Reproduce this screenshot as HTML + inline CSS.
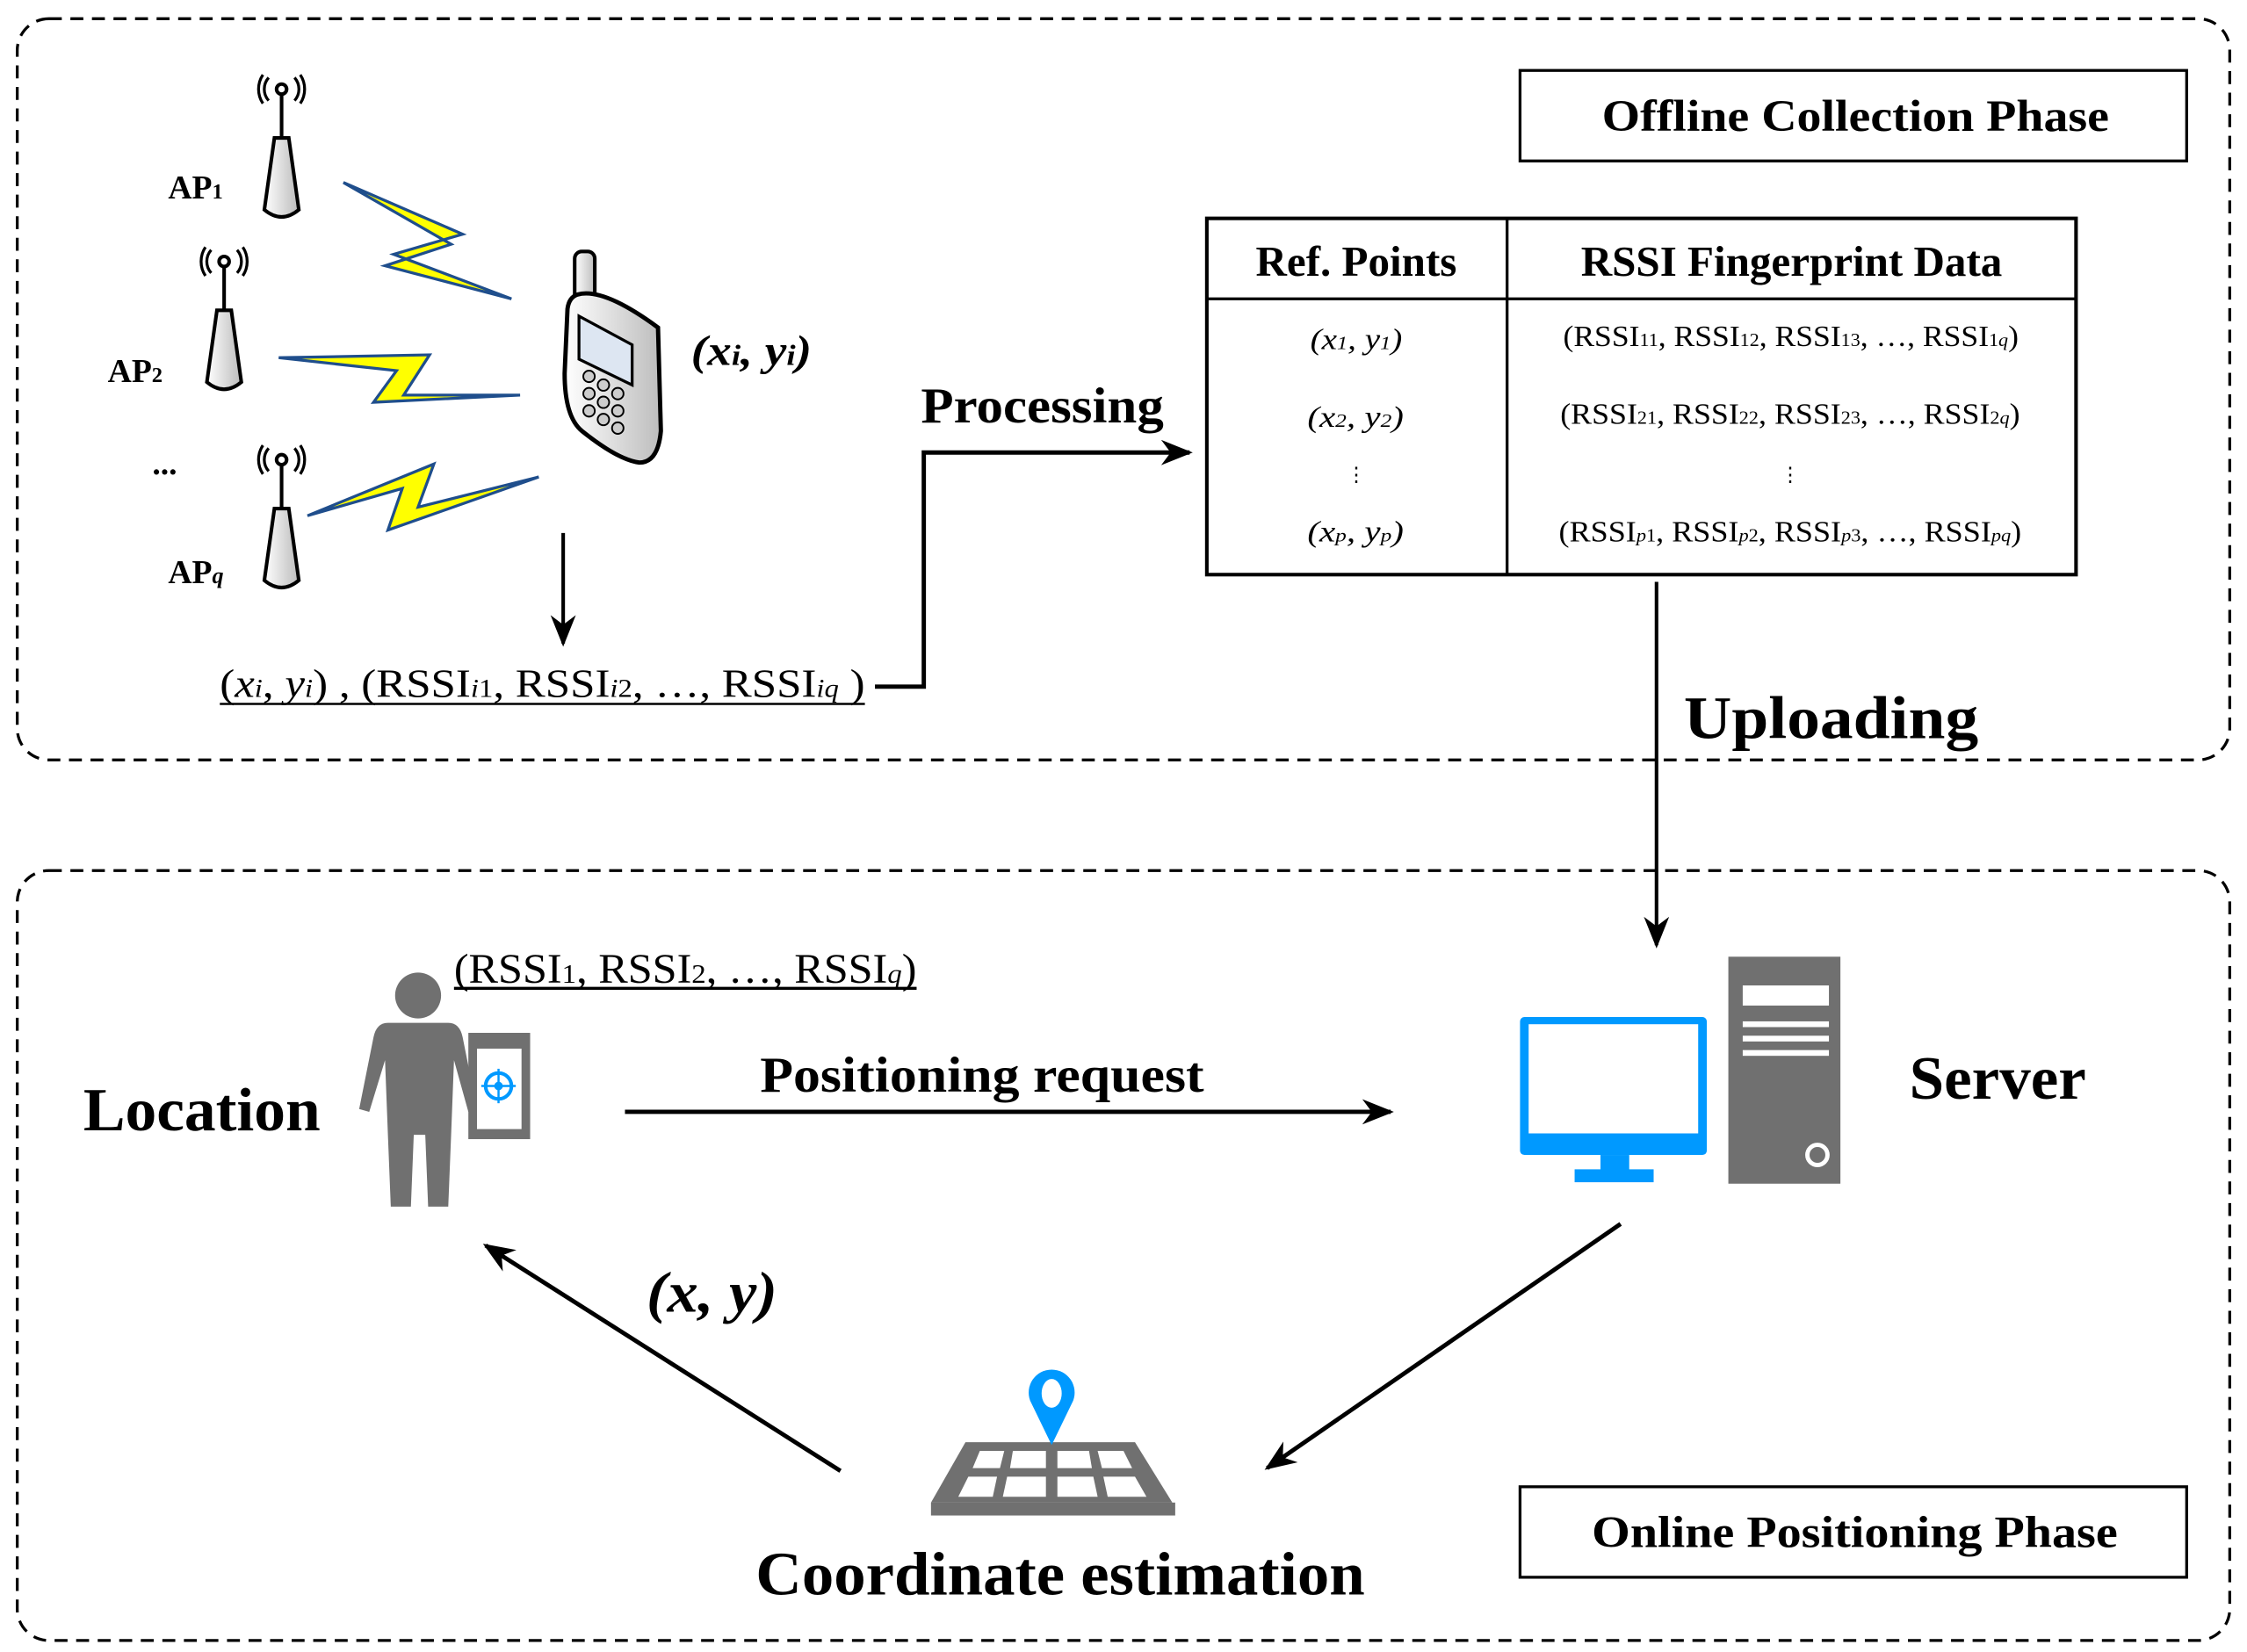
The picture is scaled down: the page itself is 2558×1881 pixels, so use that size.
<!DOCTYPE html>
<html><head><meta charset="utf-8"><style>
html,body{margin:0;padding:0;background:#fff;}
svg{display:block;}
text{font-family:"Liberation Serif",serif;fill:#000;}
</style></head><body>
<svg width="2558" height="1881" viewBox="0 0 1564 1150" xmlns="http://www.w3.org/2000/svg">
<defs>
<marker id="ahL" viewBox="0 0 10 10" refX="9" refY="5" markerWidth="22" markerHeight="22" orient="auto" markerUnits="userSpaceOnUse"><path d="M0,1 L10,5 L0,9 L3,5 z" fill="#000"/></marker>
<linearGradient id="ant" x1="0" x2="1"><stop offset="0" stop-color="#fff"/><stop offset="1" stop-color="#bbb"/></linearGradient>
<linearGradient id="ph" x1="0" x2="1"><stop offset="0" stop-color="#fff"/><stop offset="1" stop-color="#bdbdbd"/></linearGradient>
<g id="ap">
<path d="M-13,-14 a18,18 0 0 0 0,20 M-9,-12 a12,12 0 0 0 0,16 M13,-14 a18,18 0 0 1 0,20 M9,-12 a12,12 0 0 1 0,16" fill="none" stroke="#000" stroke-width="2"/>
<circle cx="0" cy="-4" r="3.5" fill="#fff" stroke="#000" stroke-width="2.5"/>
<line x1="0" y1="-1" x2="0" y2="30" stroke="#000" stroke-width="2.5"/>
<path d="M-5,30 L5,30 L12,80 Q0,90 -12,80 Z" fill="url(#ant)" stroke="#000" stroke-width="2.5"/>
</g>
</defs>
<rect x="12" y="13" width="1540" height="516" rx="22" fill="none" stroke="#000" stroke-width="2" stroke-dasharray="9,6"/>
<rect x="12" y="606" width="1540" height="536" rx="22" fill="none" stroke="#000" stroke-width="2" stroke-dasharray="9,6"/>

<rect x="1058" y="49" width="464" height="63" fill="#fff" stroke="#000" stroke-width="2"/>
<text x="1115" y="91" font-size="31" font-weight="bold" textLength="353" lengthAdjust="spacingAndGlyphs">Offline Collection Phase</text>
<rect x="1058" y="1035" width="464" height="63" fill="#fff" stroke="#000" stroke-width="2"/>
<text x="1108" y="1077" font-size="31" font-weight="bold" textLength="366" lengthAdjust="spacingAndGlyphs">Online Positioning Phase</text>

<use href="#ap" x="196" y="66"/>
<use href="#ap" x="156" y="186"/>
<use href="#ap" x="196" y="324"/>
<text x="117" y="138" font-size="23" font-weight="bold">AP<tspan font-size="15">1</tspan></text>
<text x="75" y="266" font-size="23" font-weight="bold">AP<tspan font-size="15">2</tspan></text>
<text x="106" y="330" font-size="23" font-weight="bold">...</text>
<text x="117" y="406" font-size="23" font-weight="bold">AP<tspan font-size="16" font-style="italic">q</tspan></text>
<polygon points="239,127 322,163 274,177 356,208 268,185 314,170" fill="#ff0" stroke="#1f4e8c" stroke-width="2"/>
<polygon points="194,249 299,247 281,275 362,275 260,280 276,258" fill="#ff0" stroke="#1f4e8c" stroke-width="2"/>
<polygon points="214,359 302,323 291,353 375,332 270,369 280,340" fill="#ff0" stroke="#1f4e8c" stroke-width="2"/>
<rect x="400" y="175" width="14" height="40" rx="5" fill="url(#ph)" stroke="#000" stroke-width="2.5"/>
<path d="M402,205 Q420,200 458,228 L460,300 Q458,322 445,322 Q430,320 405,300 Q393,290 393,260 L395,215 Q396,207 402,205 Z" fill="url(#ph)" stroke="#000" stroke-width="3"/>
<polygon points="403,220 440,240 440,268 403,250" fill="#dde6f2" stroke="#000" stroke-width="2"/>
<g fill="#ccc" stroke="#000" stroke-width="1.2">
<circle cx="410" cy="262" r="4"/><circle cx="420" cy="268" r="4"/><circle cx="430" cy="274" r="4"/>
<circle cx="410" cy="274" r="4"/><circle cx="420" cy="280" r="4"/><circle cx="430" cy="286" r="4"/>
<circle cx="410" cy="286" r="4"/><circle cx="420" cy="292" r="4"/><circle cx="430" cy="298" r="4"/>
</g>
<text x="481" y="254" font-size="30" font-style="italic" font-weight="bold" textLength="84" lengthAdjust="spacingAndGlyphs">(x<tspan font-size="20">i</tspan>, y<tspan font-size="20">i</tspan>)</text>

<line x1="392" y1="371" x2="392" y2="448" stroke="#000" stroke-width="2.5" marker-end="url(#ahL)"/>
<text x="153" y="485" font-size="28" textLength="449" lengthAdjust="spacingAndGlyphs">(<tspan font-style="italic">x</tspan><tspan font-size="18" font-style="italic">i</tspan>, <tspan font-style="italic">y</tspan><tspan font-size="18" font-style="italic">i</tspan>) , (RSSI<tspan font-size="18" font-style="italic">i</tspan><tspan font-size="18">1</tspan>, RSSI<tspan font-size="18" font-style="italic">i</tspan><tspan font-size="18">2</tspan>, …, RSSI<tspan font-size="18" font-style="italic">iq</tspan> )</text>
<line x1="153" y1="490" x2="602" y2="490" stroke="#000" stroke-width="1.5"/>
<polyline points="609,478 643,478 643,315 828,315" fill="none" stroke="#000" stroke-width="3" marker-end="url(#ahL)"/>
<text x="641" y="294" font-size="35" font-weight="bold" textLength="169" lengthAdjust="spacingAndGlyphs">Processing</text>

<rect x="840" y="152" width="605" height="248" fill="#fff" stroke="#000" stroke-width="2.5"/>
<line x1="840" y1="208" x2="1445" y2="208" stroke="#000" stroke-width="2"/>
<line x1="1049" y1="152" x2="1049" y2="400" stroke="#000" stroke-width="2"/>
<text x="944" y="192" font-size="30" font-weight="bold" text-anchor="middle">Ref. Points</text>
<text x="1247" y="192" font-size="30" font-weight="bold" text-anchor="middle">RSSI Fingerprint Data</text>
<g font-size="21" font-style="italic">
<text x="912" y="243" textLength="64" lengthAdjust="spacingAndGlyphs">(x<tspan font-size="13">1</tspan>, y<tspan font-size="13">1</tspan>)</text>
<text x="910" y="297" textLength="67" lengthAdjust="spacingAndGlyphs">(x<tspan font-size="13">2</tspan>, y<tspan font-size="13">2</tspan>)</text>
<text x="910" y="377" textLength="67" lengthAdjust="spacingAndGlyphs">(x<tspan font-size="13">p</tspan>, y<tspan font-size="13">p</tspan>)</text>
<text x="944" y="335" font-style="normal" font-size="14" text-anchor="middle">⋮</text>
</g>
<g font-size="21">
<text x="1088" y="241" textLength="317" lengthAdjust="spacingAndGlyphs">(RSSI<tspan font-size="13">11</tspan>, RSSI<tspan font-size="13">12</tspan>, RSSI<tspan font-size="13">13</tspan>, …, RSSI<tspan font-size="13">1<tspan font-style="italic">q</tspan></tspan>)</text>
<text x="1086" y="295" textLength="320" lengthAdjust="spacingAndGlyphs">(RSSI<tspan font-size="13">21</tspan>, RSSI<tspan font-size="13">22</tspan>, RSSI<tspan font-size="13">23</tspan>, …, RSSI<tspan font-size="13">2<tspan font-style="italic">q</tspan></tspan>)</text>
<text x="1085" y="377" textLength="322" lengthAdjust="spacingAndGlyphs">(RSSI<tspan font-size="13"><tspan font-style="italic">p</tspan>1</tspan>, RSSI<tspan font-size="13"><tspan font-style="italic">p</tspan>2</tspan>, RSSI<tspan font-size="13"><tspan font-style="italic">p</tspan>3</tspan>, …, RSSI<tspan font-size="13" font-style="italic">pq</tspan>)</text>
<text x="1246" y="335" font-size="14" text-anchor="middle">⋮</text>
</g>

<line x1="1153" y1="405" x2="1153" y2="658" stroke="#000" stroke-width="2.5" marker-end="url(#ahL)"/>
<text x="1172" y="514" font-size="42" font-weight="bold" textLength="205" lengthAdjust="spacingAndGlyphs">Uploading</text>

<g fill="#707070">
<circle cx="291" cy="693" r="16"/>
<path d="M270,712 L312,712 Q320,712 322,722 L332,772 L326,774 L316,738 L314,790 L312,840 L298,840 L296,790 L288,790 L286,840 L272,840 L270,790 L268,738 L257,774 L250,772 L260,722 Q262,712 270,712 Z"/>
<rect x="326" y="719" width="43" height="74"/>
</g>
<rect x="332" y="730" width="31" height="56" fill="#fff"/>
<circle cx="347" cy="756" r="9" fill="none" stroke="#09f" stroke-width="2.5"/>
<circle cx="347" cy="756" r="3" fill="#09f"/>
<line x1="335" y1="756" x2="359" y2="756" stroke="#09f" stroke-width="1.5"/>
<line x1="347" y1="744" x2="347" y2="768" stroke="#09f" stroke-width="1.5"/>
<text x="316" y="684" font-size="29" textLength="322" lengthAdjust="spacingAndGlyphs">(RSSI<tspan font-size="19">1</tspan>, RSSI<tspan font-size="19">2</tspan>, …, RSSI<tspan font-size="19" font-style="italic">q</tspan>)</text>
<line x1="316" y1="688" x2="638" y2="688" stroke="#000" stroke-width="2"/>
<text x="58" y="787" font-size="43" font-weight="bold" textLength="165" lengthAdjust="spacingAndGlyphs">Location</text>

<line x1="435" y1="774" x2="968" y2="774" stroke="#000" stroke-width="3" marker-end="url(#ahL)"/>
<text x="529" y="760" font-size="35" font-weight="bold" textLength="309" lengthAdjust="spacingAndGlyphs">Positioning request</text>

<rect x="1058" y="708" width="130" height="96" rx="3" fill="#09f"/>
<rect x="1064" y="713" width="118" height="76" fill="#fff"/>
<rect x="1114" y="804" width="20" height="12" fill="#09f"/>
<rect x="1096" y="814" width="55" height="9" fill="#09f"/>
<rect x="1203" y="666" width="78" height="158" fill="#707070"/>
<rect x="1213" y="686" width="60" height="14" fill="#fff"/>
<rect x="1213" y="711" width="60" height="4" fill="#fff"/>
<rect x="1213" y="721" width="60" height="4" fill="#fff"/>
<rect x="1213" y="731" width="60" height="4" fill="#fff"/>
<circle cx="1265" cy="804" r="7" fill="none" stroke="#fff" stroke-width="3"/>
<text x="1329" y="765" font-size="43" font-weight="bold" textLength="123" lengthAdjust="spacingAndGlyphs">Server</text>

<line x1="1128" y1="852" x2="882" y2="1022" stroke="#000" stroke-width="3" marker-end="url(#ahL)"/>
<line x1="585" y1="1024" x2="338" y2="867" stroke="#000" stroke-width="3" marker-end="url(#ahL)"/>
<text x="450" y="913" font-size="40" font-style="italic" font-weight="bold" textLength="91" lengthAdjust="spacingAndGlyphs">(x, y)</text>

<polygon points="672,1004 790,1004 816,1046 648,1046" fill="#707070"/>
<rect x="648" y="1046" width="170" height="9" fill="#707070"/>
<g fill="#fff">
<polygon points="682,1010 699,1010 696,1022 677,1022"/>
<polygon points="705,1010 728,1010 728,1022 703,1022"/>
<polygon points="736,1010 758,1010 760,1022 736,1022"/>
<polygon points="764,1010 782,1010 788,1022 767,1022"/>
<polygon points="674,1028 694,1028 691,1042 667,1042"/>
<polygon points="701,1028 728,1028 728,1042 698,1042"/>
<polygon points="736,1028 761,1028 764,1042 736,1042"/>
<polygon points="768,1028 790,1028 798,1042 771,1042"/>
</g>
<path d="M732,1006 L717,975 A16,16 0 1 1 747,975 Z" fill="#09f"/>
<ellipse cx="732" cy="970" rx="7" ry="10" fill="#fff"/>
<text x="526" y="1110" font-size="43" font-weight="bold" textLength="424" lengthAdjust="spacingAndGlyphs">Coordinate estimation</text>
</svg>
</body></html>
